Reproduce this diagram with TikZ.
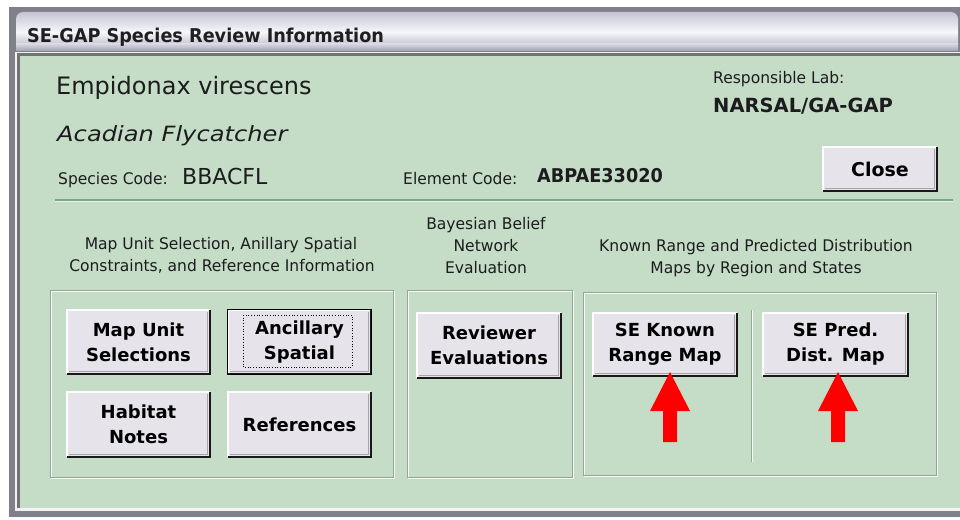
\documentclass[tikz,border=0pt]{standalone}
\usepackage{fontspec}
\setmainfont{DejaVu Sans}
\newfontfamily\fTitle[FakeStretch=0.93]{DejaVu Sans}
\newfontfamily\fBig{DejaVu Sans}
\newfontfamily\fObl[FakeStretch=1.15]{DejaVu Sans}
\newfontfamily\fSmall[FakeStretch=0.97]{DejaVu Sans}

\definecolor{panel}{RGB}{197,221,199}
\definecolor{frame}{RGB}{128,128,138}
\definecolor{face}{RGB}{230,228,234}
\definecolor{sepline}{RGB}{120,168,128}
\definecolor{etch}{RGB}{150,164,152}
\definecolor{ink}{RGB}{28,28,30}

\tikzset{
  txt/.style={anchor=base west, inner sep=0pt, text=ink},
  lbl/.style={anchor=base, inner sep=0pt, text=ink,
              font=\fSmall\fontsize{16pt}{19pt}\selectfont},
  btn/.style={fill=face, draw=none, inner sep=0pt, align=center, text=black,
              font=\fBig\bfseries\fontsize{18pt}{25pt}\selectfont},
  hl/.style={white, line width=1.6pt},
  shd/.style={black!90, line width=2.2pt},
  innershd/.style={black!35, line width=1pt},
  etchdark/.style={etch, line width=1pt},
  etchlight/.style={white!85!panel, line width=1pt},
  redarrow/.style={fill=red, draw=none}
}

% raised push-button edges around a named node
\newcommand\bevel[1]{%
  \draw[innershd] ([shift={(-2.5,2)}]#1.north east) -- ([shift={(-2.5,-2.5)}]#1.south east)
                  -- ([shift={(2,-2.5)}]#1.south west);
  \draw[hl] (#1.south west) -- (#1.north west) -- (#1.north east);
  \draw[shd] (#1.north east) -- (#1.south east) -- (#1.south west);
}

\begin{document}
\begin{tikzpicture}[x=1pt, y=-1pt]
\useasboundingbox (0,0) rectangle (960,519);
\fill[white] (0,0) rectangle (960,519);

% window frame
\fill[frame] (9,7) rectangle (960,517);
\shade[top color=black!2, bottom color=white] (9,517) rectangle (960,519);
% title bar
\shade[rounded corners=7pt, top color={rgb,255:red,196;green,196;blue,212},
       bottom color={rgb,255:red,168;green,168;blue,186},
       middle color={rgb,255:red,246;green,246;blue,251}]
  (16,52) -- (16,12) -- (958,12) -- (958,52) -- cycle;
\fill[frame] (16,46) rectangle (958,52);
\shade[top color={rgb,255:red,214;green,214;blue,226}, bottom color={rgb,255:red,160;green,160;blue,180}] (16,44) rectangle (958,51);

% client area
\fill[white!90!frame] (15,52) rectangle (960,511);
\fill[black!55] (17,53) rectangle (960,508);
\fill[panel] (20,56) rectangle (960,508);

% title
\node[txt, text=black!88, font=\fTitle\bfseries\fontsize{19pt}{23pt}\selectfont]
  (title) at (27,42) {SE-GAP Species Review Information};

% species header
\node[txt, font=\fBig\fontsize{24pt}{28pt}\selectfont] (sci) at (56,94) {Empidonax virescens};
\node[txt, font=\fObl\itshape\fontsize{21pt}{25pt}\selectfont] (common) at (57,141) {Acadian Flycatcher};
\node[txt, font=\fSmall\fontsize{16pt}{19pt}\selectfont] (spclabel) at (58,184) {Species Code:};
\node[txt, font=\fBig\fontsize{22pt}{26pt}\selectfont] (spccode) at (182,184) {BBACFL};
\node[txt, font=\fSmall\fontsize{16pt}{19pt}\selectfont] (ellabel) at (403,184) {Element Code:};
\node[txt, font=\fTitle\bfseries\fontsize{19pt}{23pt}\selectfont] (elcode) at (537,182) {ABPAE33020};
\node[txt, font=\fSmall\fontsize{16pt}{19pt}\selectfont] (lablabel) at (713,83) {Responsible Lab:};
\node[txt, font=\fBig\bfseries\fontsize{19.5pt}{23pt}\selectfont] (labname) at (713,112) {NARSAL/GA-GAP};

% close button
\node[btn, minimum width=114pt, minimum height=44pt,
      font=\fBig\bfseries\fontsize{19pt}{23pt}\selectfont] (close) at (880,169) {Close};
\bevel{close}

% separator under the header
\draw[sepline, line width=1.5pt] (55,200) -- (953,200);
\draw[white!60!panel, line width=1pt] (55,201.5) -- (953,201.5);

% section headings
\node[lbl] (h1a) at (221,249) {Map Unit Selection, Anillary Spatial};
\node[lbl] (h1b) at (222,271) {Constraints, and Reference Information};
\node[lbl] (h2a) at (486,229) {Bayesian Belief};
\node[lbl] (h2b) at (486,251) {Network};
\node[lbl] (h2c) at (486,273) {Evaluation};
\node[lbl] (h3a) at (756,251) {Known Range and Predicted Distribution};
\node[lbl] (h3b) at (756,273) {Maps by Region and States};

% etched group boxes
\draw[etchlight] (51,291) rectangle (394,478);
\draw[etchdark] (50,290) rectangle (393,477);
\draw[etchlight] (408,291) rectangle (573,478);
\draw[etchdark] (407,290) rectangle (572,477);
\draw[etchlight] (584,293) rectangle (937,476);
\draw[etchdark] (583,292) rectangle (936,475);
\draw[etchdark] (751,310) -- (751,462);
\draw[etchlight] (752,310) -- (752,462);

% buttons
\node[btn, minimum width=143pt, minimum height=64pt] (mapunit) at (138.5,342) {Map Unit\\Selections};
\bevel{mapunit}
\node[btn, minimum width=143pt, minimum height=64pt] (ancillary) at (299.5,342) {Ancillary\\Spatial};
\bevel{ancillary}
\draw[black, line width=1.2pt] (ancillary.south west) rectangle (ancillary.north east);
\draw[black, line width=0.7pt, dotted] (243,315) rectangle (352,367);
\node[btn, minimum width=143pt, minimum height=65pt] (habitat) at (138.5,424.5) {Habitat\\Notes};
\bevel{habitat}
\node[btn, minimum width=143pt, minimum height=65pt] (refs) at (299.5,424.5) {References};
\bevel{refs}
\node[btn, minimum width=144pt, minimum height=65pt] (reviewer) at (489,345.5) {Reviewer\\Evaluations};
\bevel{reviewer}
\node[btn, minimum width=144pt, minimum height=63pt] (knownrange) at (665,344.5) {SE Known\\Range Map};
\bevel{knownrange}
\node[btn, minimum width=145pt, minimum height=63pt] (preddist) at (835.5,344.5) {SE Pred.\\Dist. Map};
\bevel{preddist}

% red pointer arrows
\fill[redarrow] (670,372) -- (690,411) -- (677,411) -- (677,442) -- (663,442) -- (663,411) -- (650,411) -- cycle;
\fill[redarrow] (838,372) -- (858,411) -- (845,411) -- (845,442) -- (831,442) -- (831,411) -- (818,411) -- cycle;
\end{tikzpicture}
\end{document}
